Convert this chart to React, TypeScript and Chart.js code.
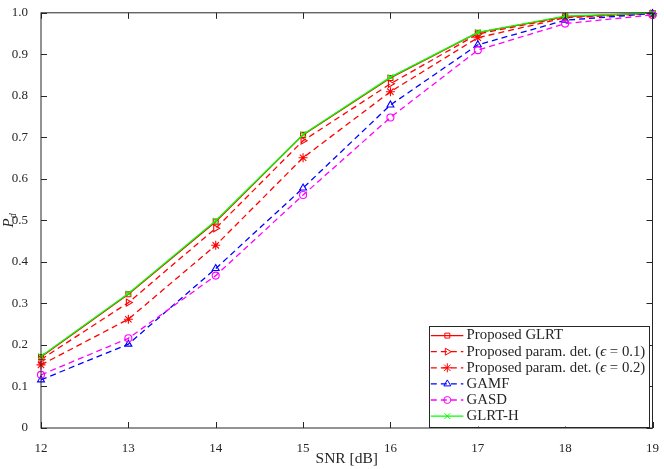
import { useEffect, useRef } from 'react';
import { Chart, registerables } from 'chart.js';
import { drawPoint } from 'chart.js/helpers';

Chart.register(...registerables);

// SNR in dB and detection probability per detector
const snr = [12, 13, 14, 15, 16, 17, 18, 19];
const pdGlrt = [0.171, 0.322, 0.497, 0.706, 0.843, 0.952, 0.991, 0.999];
const pdParam01 = [0.165, 0.302, 0.481, 0.692, 0.829, 0.949, 0.990, 0.998];
const pdParam02 = [0.152, 0.262, 0.440, 0.651, 0.810, 0.940, 0.988, 0.998];
const pdGamf = [0.116, 0.202, 0.384, 0.578, 0.778, 0.923, 0.982, 0.998];
const pdGasd = [0.128, 0.216, 0.367, 0.561, 0.748, 0.910, 0.974, 0.995];
const pdGlrtH = [0.173, 0.324, 0.499, 0.707, 0.845, 0.953, 0.992, 0.999];

const FONT = '"Liberation Serif", "Times New Roman", serif';
const INK = '#262626';
const LEG_SIZE = 14.8;

const pts = (ys: number[]) => ys.map((y, i) => ({ x: snr[i], y }));

// draws the axes box, inward ticks, y label and the legend inside the plot
const decor = {
  id: 'decor',
  afterDatasetsDraw(chart: any) {
    const { ctx, chartArea: a, scales } = chart;
    ctx.save();

    // box
    ctx.strokeStyle = INK;
    ctx.lineWidth = 1;
    ctx.setLineDash([]);
    ctx.strokeRect(a.left, a.top, a.right - a.left, a.bottom - a.top);

    // inward ticks on all four sides
    const tl = 6;
    ctx.beginPath();
    scales.y.ticks.forEach((t: any) => {
      const py = Math.round(scales.y.getPixelForValue(t.value)) + 0.5;
      ctx.moveTo(a.left, py); ctx.lineTo(a.left + tl, py);
      ctx.moveTo(a.right, py); ctx.lineTo(a.right - tl, py);
    });
    scales.x.ticks.forEach((t: any) => {
      const px = Math.round(scales.x.getPixelForValue(t.value)) + 0.5;
      ctx.moveTo(px, a.bottom); ctx.lineTo(px, a.bottom - tl);
      ctx.moveTo(px, a.top); ctx.lineTo(px, a.top + tl);
    });
    ctx.stroke();

    // y label: italic P with subscript d
    ctx.fillStyle = INK;
    ctx.translate(13, (a.top + a.bottom) / 2);
    ctx.rotate(-Math.PI / 2);
    ctx.font = `italic 15px ${FONT}`;
    const wP = ctx.measureText('P').width;
    ctx.font = `italic 10px ${FONT}`;
    const wd = ctx.measureText('d').width;
    ctx.textBaseline = 'alphabetic';
    ctx.textAlign = 'left';
    ctx.font = `italic 15px ${FONT}`;
    ctx.fillText('P', -(wP + wd) / 2, 0);
    ctx.font = `italic 10px ${FONT}`;
    ctx.fillText('d', -(wP + wd) / 2 + wP, 3);
    ctx.setTransform(1, 0, 0, 1, 0, 0);
    ctx.scale(chart.currentDevicePixelRatio, chart.currentDevicePixelRatio);

    // legend
    const sets = chart.data.datasets;
    const rowH = 16.1;
    const plain = `${LEG_SIZE}px ${FONT}`;
    const ital = `italic ${LEG_SIZE}px ${FONT}`;
    ctx.font = plain;
    const textW = (s: string) => {
      let w = 0;
      s.split('ϵ').forEach((part, i) => {
        if (i > 0) { ctx.font = ital; w += ctx.measureText('ϵ').width; ctx.font = plain; }
        w += ctx.measureText(part).width;
      });
      return w;
    };
    const maxW = Math.max(...sets.map((d: any) => textW(d.label)));
    const boxW = 37 + maxW + 4;
    const boxH = rowH * sets.length + 4;
    const bx = a.right - 3.5 - boxW;
    const by = a.bottom - 1.5 - boxH;
    ctx.fillStyle = '#ffffff';
    ctx.fillRect(bx, by, boxW, boxH);
    ctx.strokeStyle = INK;
    ctx.lineWidth = 1;
    ctx.strokeRect(Math.round(bx) + 0.5, Math.round(by) + 0.5, Math.round(boxW), Math.round(boxH));

    sets.forEach((d: any, i: number) => {
      const cy = by + 9.7 + i * rowH;
      ctx.strokeStyle = d.borderColor;
      ctx.lineWidth = d.borderWidth;
      ctx.setLineDash(d.borderDash || []);
      ctx.beginPath();
      ctx.moveTo(bx + 1.5, cy);
      ctx.lineTo(bx + 34, cy);
      ctx.stroke();
      ctx.setLineDash([]);
      ctx.lineWidth = 1;
      ctx.fillStyle = 'rgba(0,0,0,0)';
      drawPoint(ctx, {
        pointStyle: d.pointStyle,
        rotation: d.pointRotation || 0,
        radius: d.pointRadius,
        borderWidth: 1,
      } as any, bx + 18, cy);

      ctx.fillStyle = INK;
      ctx.textBaseline = 'middle';
      ctx.textAlign = 'left';
      let x = bx + 37.3;
      d.label.split('ϵ').forEach((part: string, k: number) => {
        if (k > 0) {
          ctx.font = ital;
          ctx.fillText('ϵ', x, cy);
          x += ctx.measureText('ϵ').width;
        }
        ctx.font = plain;
        ctx.fillText(part, x, cy);
        x += ctx.measureText(part).width;
      });
    });

    ctx.restore();
  },
};

export default function App() {
  const canvasRef = useRef<HTMLCanvasElement>(null);

  useEffect(() => {
    if (!canvasRef.current) return;

    const common = {
      borderWidth: 1.3,
      pointBorderWidth: 1.1,
      pointBackgroundColor: 'rgba(0,0,0,0)',
      tension: 0,
      clip: false as any,
    };

    const chart = new Chart(canvasRef.current, {
      type: 'line',
      data: {
        datasets: [
          { ...common, label: 'Proposed GLRT', data: pts(pdGlrt), borderColor: '#ff0000', pointBorderColor: '#ff0000', pointStyle: 'rect', pointRadius: 3.5, order: 5 },
          { ...common, label: 'Proposed param. det. (ϵ = 0.1)', data: pts(pdParam01), borderColor: '#ff0000', pointBorderColor: '#ff0000', borderDash: [6, 4], pointStyle: 'triangle', pointRotation: 90, pointRadius: 4, order: 4 },
          { ...common, label: 'Proposed param. det. (ϵ = 0.2)', data: pts(pdParam02), borderColor: '#ff0000', pointBorderColor: '#ff0000', borderDash: [6, 4], pointStyle: 'star', pointRadius: 4.5, order: 3 },
          { ...common, label: 'GAMF', data: pts(pdGamf), borderColor: '#0000ff', pointBorderColor: '#0000ff', borderDash: [6, 4], pointStyle: 'triangle', pointRadius: 4, order: 2 },
          { ...common, label: 'GASD', data: pts(pdGasd), borderColor: '#ff00ff', pointBorderColor: '#ff00ff', borderDash: [6, 4], pointStyle: 'circle', pointRadius: 3.5, order: 1 },
          { ...common, label: 'GLRT-H', data: pts(pdGlrtH), borderColor: '#00ff00', pointBorderColor: '#00ff00', pointStyle: 'crossRot', pointRadius: 4, order: 0 },
        ] as any,
      },
      options: {
        responsive: true,
        maintainAspectRatio: false,
        animation: false,
        layout: { padding: { top: 8, right: 8, left: 0, bottom: 0 } },
        plugins: {
          legend: { display: false },
          tooltip: { enabled: false },
        },
        scales: {
          x: {
            type: 'linear',
            min: 12,
            max: 19,
            grid: { display: false },
            border: { display: false },
            ticks: { stepSize: 1, padding: 5, color: INK, font: { family: FONT, size: 13 } },
            title: { display: true, text: 'SNR [dB]', color: INK, font: { family: FONT, size: 15.5 }, padding: { top: 0, bottom: 1 } },
            afterFit: (s: any) => { s.height = 41; },
          },
          y: {
            type: 'linear',
            min: 0,
            max: 1,
            grid: { display: false },
            border: { display: false },
            ticks: { stepSize: 0.1, padding: 5, color: INK, font: { family: FONT, size: 13 } },
            afterFit: (s: any) => { s.width = 41; },
          },
        },
      },
      plugins: [decor],
    });

    return () => chart.destroy();
  }, []);

  return (
    <div style={{ position: 'fixed', left: 0, top: 0, width: 664, height: 469, background: '#ffffff' }}>
      <canvas ref={canvasRef} />
    </div>
  );
}
